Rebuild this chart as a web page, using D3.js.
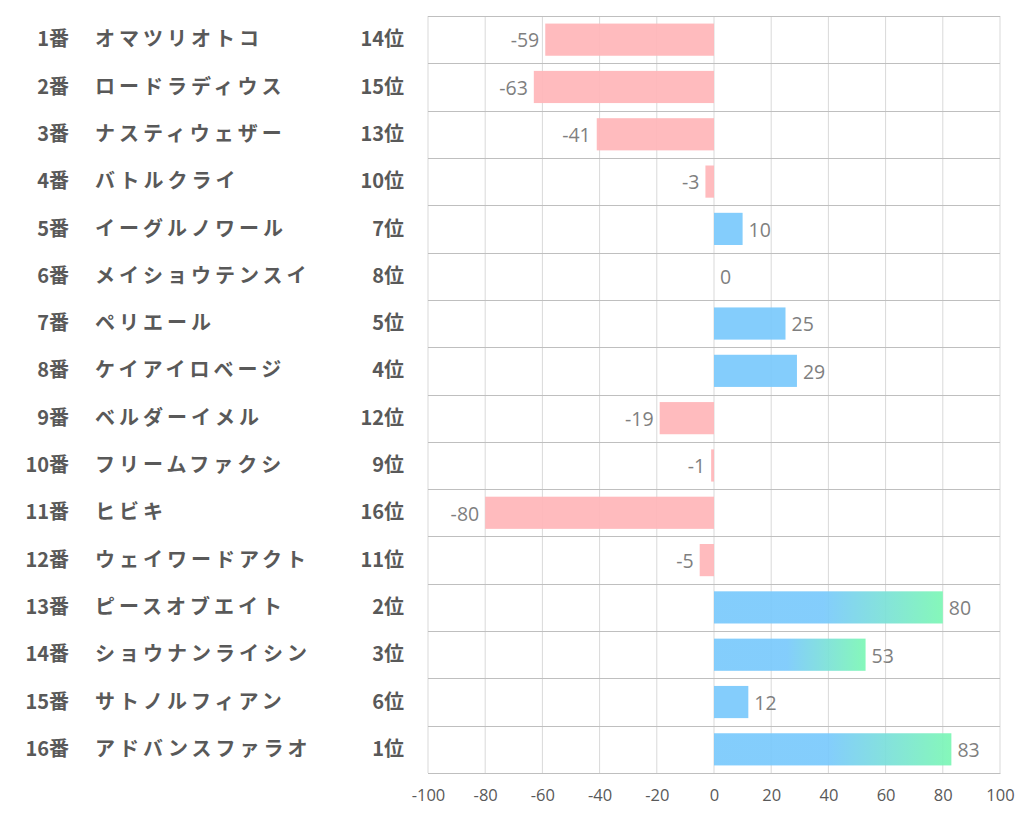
<!DOCTYPE html>
<html>
<head>
<meta charset="utf-8">
<script src="https://cdn.jsdelivr.net/npm/d3@7"></script>
<style>
  body { margin: 0; background: #fff; }
  svg { display: block; }
</style>
</head>
<body>
<svg id="chart" width="1022" height="834"></svg>
<script>
// chart data
const gateNos = ['1番', '2番', '3番', '4番', '5番', '6番', '7番', '8番', '9番', '10番', '11番', '12番', '13番', '14番', '15番', '16番'];
const horseNames = ['オマツリオトコ', 'ロードラディウス', 'ナスティウェザー', 'バトルクライ', 'イーグルノワール', 'メイショウテンスイ', 'ペリエール', 'ケイアイロベージ', 'ベルダーイメル', 'フリームファクシ', 'ヒビキ', 'ウェイワードアクト', 'ピースオブエイト', 'ショウナンライシン', 'サトノルフィアン', 'アドバンスファラオ'];
const ranks = ['14位', '15位', '13位', '10位', '7位', '8位', '5位', '4位', '12位', '9位', '16位', '11位', '2位', '3位', '6位', '1位'];
const scores = [-59, -63, -41, -3, 10, 0, 25, 29, -19, -1, -80, -5, 80, 53, 12, 83];
const xTicks = [-100, -80, -60, -40, -20, 0, 20, 40, 60, 80, 100];

const margin = { top: 16, right: 22, bottom: 61, left: 428 };
const width = 1022, height = 834;

const svg = d3.select('#chart');

const x = d3.scaleLinear().domain([-100, 100]).range([margin.left, width - margin.right]);
const y = d3.scaleBand().domain(d3.range(scores.length)).range([margin.top, height - margin.bottom]).paddingInner(0.32).paddingOuter(0.16);
const rowStep = y.step();

// top 3 ranks get a blue→green gradient
const isTop = (i) => ['1位', '2位', '3位'].includes(ranks[i]);

const defs = svg.append('defs');
const grad = defs.append('linearGradient').attr('id', 'topGrad')
  .attr('x1', '0%').attr('x2', '100%').attr('y1', '0%').attr('y2', '0%');
grad.append('stop').attr('offset', '48%').attr('stop-color', '#79c9fc');
grad.append('stop').attr('offset', '100%').attr('stop-color', '#7bf7b4');

// vertical grid
svg.append('g')
  .selectAll('line')
  .data(xTicks)
  .join('line')
  .attr('x1', (d) => x(d)).attr('x2', (d) => x(d))
  .attr('y1', margin.top).attr('y2', height - margin.bottom)
  .attr('stroke', '#d9d9d9').attr('stroke-width', 1);

// row separators
svg.append('g')
  .selectAll('line')
  .data(d3.range(scores.length + 1))
  .join('line')
  .attr('x1', margin.left).attr('x2', width - margin.right)
  .attr('y1', (d) => Math.round(margin.top + d * rowStep) + 0.5)
  .attr('y2', (d) => Math.round(margin.top + d * rowStep) + 0.5)
  .attr('stroke', '#bfbfbf').attr('stroke-width', 1);

// bars
svg.append('g')
  .selectAll('rect')
  .data(scores)
  .join('rect')
  .attr('x', (d) => x(Math.min(0, d)))
  .attr('y', (d, i) => y(i))
  .attr('width', (d) => Math.abs(x(d) - x(0)))
  .attr('height', y.bandwidth())
  .attr('fill', (d, i) => (d < 0 ? '#ffb5b9' : isTop(i) ? 'url(#topGrad)' : '#79c9fc'))
  .attr('fill-opacity', 0.92);

// value labels
svg.append('g')
  .selectAll('text')
  .data(scores)
  .join('text')
  .attr('x', (d) => (d < 0 ? x(d) - 6 : x(d) + 6))
  .attr('y', (d, i) => y(i) + y.bandwidth() / 2 + 1)
  .attr('dy', '0.35em')
  .attr('text-anchor', (d) => (d < 0 ? 'end' : 'start'))
  .attr('font-family', '"Open Sans", "Noto Sans", sans-serif')
  .attr('font-size', 19.5)
  .attr('fill', '#7f7f7f')
  .text((d) => String(d));

// left labels
const labelFont = '"Noto Sans CJK JP", sans-serif';
const rows = svg.append('g')
  .selectAll('g')
  .data(scores)
  .join('g')
  .attr('transform', (d, i) => `translate(0,${margin.top + (i + 0.5) * rowStep})`);

rows.append('text')
  .attr('x', 69).attr('dy', '0.33em')
  .attr('text-anchor', 'end')
  .text((d, i) => gateNos[i]);
rows.append('text')
  .attr('x', 95).attr('dy', '0.33em')
  .attr('letter-spacing', 4)
  .text((d, i) => horseNames[i]);
rows.append('text')
  .attr('x', 404).attr('dy', '0.33em')
  .attr('text-anchor', 'end')
  .text((d, i) => ranks[i]);
rows.selectAll('text')
  .attr('font-family', labelFont)
  .attr('font-weight', 'bold')
  .attr('font-size', 20)
  .attr('fill', '#595959');

// x axis
const xAxis = d3.axisBottom(x).tickValues(xTicks).tickSize(0).tickPadding(16).tickFormat((d) => String(d));
svg.append('g')
  .attr('transform', `translate(0,${height - margin.bottom})`)
  .call(xAxis)
  .call((g) => g.select('.domain').attr('stroke', '#bfbfbf'))
  .call((g) => g.selectAll('text')
    .attr('font-family', '"Open Sans", "Noto Sans", sans-serif')
    .attr('font-size', 16.5)
    .attr('fill', '#595959'));
</script>
</body>
</html>
